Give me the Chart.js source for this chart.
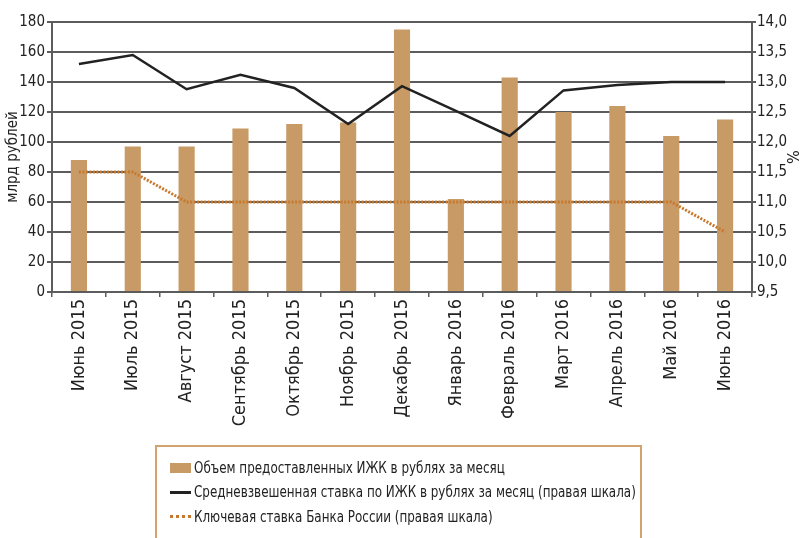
<!DOCTYPE html>
<html>
<head>
<meta charset="utf-8">
<script src="https://cdn.jsdelivr.net/npm/chart.js@4.4.0/dist/chart.umd.min.js"></script>
<style>
  html, body { margin: 0; padding: 0; background: #fff; }
  #wrap { position: relative; width: 801px; height: 538px; overflow: hidden; }
  #legend {
    position: absolute; left: 155px; top: 445px; width: 487px; height: 110px;
    border: 2px solid #d2a36e; box-sizing: border-box;
    font-family: "DejaVu Sans Condensed", sans-serif;
    font-size: 16px; color: #222;
  }
  .row { position: absolute; left: 13px; height: 20px; line-height: 20px; white-space: nowrap; }
  .sw { display: inline-block; vertical-align: middle; margin-right: 3px; }
  .txt { display: inline-block; vertical-align: middle; transform: scaleX(0.83); transform-origin: left center; }
</style>
</head>
<body>
<div id="wrap">
  <canvas id="myChart" width="801" height="538"></canvas>
  <div id="legend"></div>
</div>
<script>
const months = ["Июнь 2015", "Июль 2015", "Август 2015", "Сентябрь 2015", "Октябрь 2015",
  "Ноябрь 2015", "Декабрь 2015", "Январь 2016", "Февраль 2016", "Март 2016",
  "Апрель 2016", "Май 2016", "Июнь 2016"];
// млрд рублей
const volume = [88, 97, 97, 109, 112, 113, 175, 62, 143, 120, 124, 104, 115];
// %, правая шкала
const avgRate = [13.3, 13.45, 12.88, 13.12, 12.9, 12.3, 12.93, 12.52, 12.1, 12.86, 12.95, 13.0, 13.0];
const keyRate = [11.5, 11.5, 11.0, 11.0, 11.0, 11.0, 11.0, 11.0, 11.0, 11.0, 11.0, 11.0, 10.5];

const seriesNames = [
  "Объем предоставленных ИЖК в рублях за месяц",
  "Средневзвешенная ставка по ИЖК в рублях за месяц (правая шкала)",
  "Ключевая ставка Банка России (правая шкала)"
];

const FONT = "'DejaVu Sans Condensed', sans-serif";
const barColor = "#c89b66";
const keyColor = "#c8782c";
const gridColor = "#5c5c5c";
const textColor = "#222";

const ctx = document.getElementById('myChart');
const chart = new Chart(ctx, {
  data: {
    labels: months,
    datasets: [
      {
        type: 'line',
        label: seriesNames[1],
        data: avgRate,
        yAxisID: 'y1',
        borderColor: '#222',
        borderWidth: 2.5,
        pointRadius: 0,
        tension: 0,
        order: 1
      },
      {
        type: 'line',
        label: seriesNames[2],
        data: keyRate,
        yAxisID: 'y1',
        borderColor: keyColor,
        borderWidth: 3,
        borderDash: [2, 1.5],
        pointRadius: 0,
        tension: 0,
        order: 2
      },
      {
        type: 'bar',
        label: seriesNames[0],
        data: volume,
        yAxisID: 'y',
        backgroundColor: barColor,
        barPercentage: 0.6,
        categoryPercentage: 0.5,
        order: 3
      }
    ]
  },
  options: {
    responsive: false,
    animation: false,
    layout: { padding: { top: 22, right: 0, left: 4, bottom: 0 } },
    plugins: { legend: { display: false }, tooltip: { enabled: false } },
    scales: {
      x: {
        offset: true,
        grid: { offset: true, drawOnChartArea: false, color: gridColor, lineWidth: 1.5, tickLength: 5 },
        border: { color: gridColor, width: 2 },
        ticks: { color: textColor, font: { family: FONT, size: 18 }, minRotation: 90, maxRotation: 90, padding: 2 },
        afterFit: (axis) => { axis.height = 246; }
      },
      y: {
        position: 'left',
        min: 0, max: 180,
        ticks: { stepSize: 20, color: textColor, font: { family: FONT, size: 15 }, padding: 2 },
        grid: { color: gridColor, lineWidth: 2, tickLength: 5 },
        border: { color: gridColor, width: 2 },
        title: { display: true, text: 'млрд рублей', color: textColor, font: { family: FONT, size: 15 }, padding: 0 },
        afterFit: (axis) => { axis.width = 48; }
      },
      y1: {
        position: 'right',
        min: 9.5, max: 14,
        ticks: {
          stepSize: 0.5, color: textColor, font: { family: FONT, size: 15 }, padding: 1,
          callback: (v) => v.toFixed(1).replace('.', ',')
        },
        grid: { drawOnChartArea: false, color: gridColor, lineWidth: 2, tickLength: 4 },
        border: { color: gridColor, width: 2 },
        title: { display: true, text: '%', color: textColor, font: { family: FONT, size: 16 }, padding: 0 },
        afterFit: (axis) => { axis.width = 49; }
      }
    }
  }
});

// легенда под графиком
const legend = document.getElementById('legend');
const rows = [
  { name: seriesNames[0], sw: `width:21px;height:10px;background:${barColor}` },
  { name: seriesNames[1], sw: 'width:21px;height:3px;background:#222' },
  { name: seriesNames[2], sw: `width:21px;height:0;border-top:3px dotted ${keyColor}` }
];
rows.forEach((r, i) => {
  const div = document.createElement('div');
  div.className = 'row';
  div.style.top = (10 + i * 24.5) + 'px';
  div.innerHTML = `<span class="sw" style="${r.sw}"></span><span class="txt">${r.name}</span>`;
  legend.appendChild(div);
});
</script>
</body>
</html>
